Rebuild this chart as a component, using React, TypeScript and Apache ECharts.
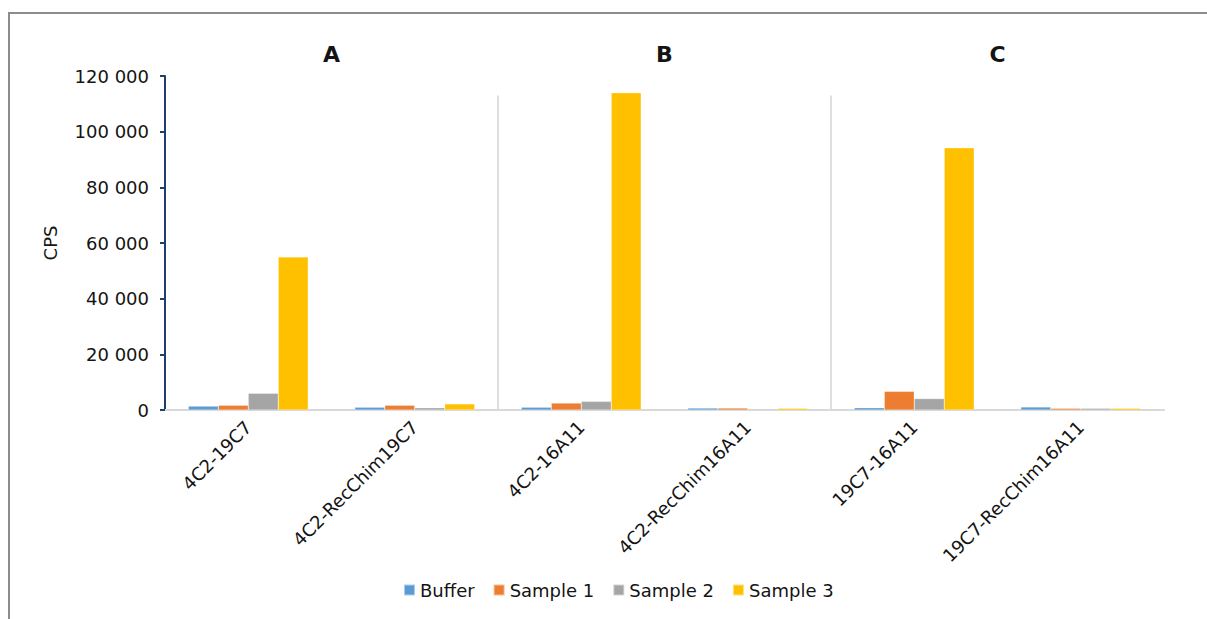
import React, { useEffect, useRef } from "react";
import * as echarts from "echarts";

const categories = [
  "4C2-19C7",
  "4C2-RecChim19C7",
  "4C2-16A11",
  "4C2-RecChim16A11",
  "19C7-16A11",
  "19C7-RecChim16A11",
];
const seriesNames = ["Buffer", "Sample 1", "Sample 2", "Sample 3"];
const bufferValues = [1400, 1000, 1000, 700, 800, 1100];
const sample1Values = [1700, 1700, 2500, 700, 6700, 600];
const sample2Values = [6000, 800, 3100, 350, 4100, 600];
const sample3Values = [55000, 2200, 114000, 600, 94200, 600];
const seriesColors = ["#5B9BD5", "#ED7D31", "#A5A5A5", "#FFC000"];
const panelTitles = ["A", "B", "C"];
const yMax = 120000;
const yInterval = 20000;

const FONT = "DejaVu Sans";
const TEXT = "#141414";

function fmt(v: number): string {
  return String(Math.round(v)).replace(/\B(?=(\d{3})+(?!\d))/g, " ");
}

export default function App() {
  const ref = useRef<HTMLDivElement>(null);

  useEffect(() => {
    if (!ref.current) return;
    const chart = echarts.init(ref.current, null, { renderer: "svg" });
    const allValues = [bufferValues, sample1Values, sample2Values, sample3Values];

    chart.setOption({
      animation: false,
      backgroundColor: "#ffffff",
      grid: { left: 165, right: 43, top: 76, bottom: 209, containLabel: false },
      legend: {
        data: seriesNames,
        left: 398,
        top: 576,
        icon: "rect",
        itemWidth: 11,
        itemHeight: 11,
        itemGap: 18,
        textStyle: { fontFamily: FONT, fontSize: 18, color: TEXT },
      },
      xAxis: {
        type: "category",
        data: categories,
        axisLine: { show: true, lineStyle: { color: "#D9D9D9", width: 2 } },
        axisTick: { show: false },
        axisLabel: {
          rotate: 45,
          margin: 14,
          interval: 0,
          fontFamily: FONT,
          fontSize: 18,
          color: TEXT,
        },
        splitLine: { show: false },
      },
      yAxis: {
        type: "value",
        min: 0,
        max: yMax,
        interval: yInterval,
        name: "CPS",
        nameLocation: "middle",
        nameGap: 106,
        nameRotate: 90,
        nameTextStyle: { fontFamily: FONT, fontSize: 18, color: TEXT },
        axisLine: { show: true, lineStyle: { color: "#1F3F6E", width: 2 } },
        axisTick: { show: true, inside: false, length: 5, lineStyle: { color: "#1F3F6E", width: 2 } },
        axisLabel: {
          margin: 16,
          fontFamily: FONT,
          fontSize: 18,
          color: TEXT,
          formatter: (v: number) => fmt(v),
        },
        splitLine: { show: false },
      },
      series: seriesNames.map((name, i) => ({
        name,
        type: "bar",
        data: allValues[i],
        barGap: "0%",
        barCategoryGap: "28%",
        itemStyle: { color: seriesColors[i], borderColor: "rgba(255,255,255,0.5)", borderWidth: 0.5 },
      })),
    });

    const xPix = (i: number) => chart.convertToPixel({ xAxisIndex: 0 }, categories[i]) as number;
    const yPix = (v: number) => chart.convertToPixel({ yAxisIndex: 0 }, v) as number;
    const y0 = yPix(0);
    const yTop = yPix(113000);

    const graphics: any[] = [
      {
        type: "rect",
        shape: { x: 9, y: 13, width: 1300, height: 700 },
        style: { fill: "none", stroke: "#8C8C8C", lineWidth: 2 },
        silent: true,
      },
    ];
    [2, 4].forEach((k) => {
      const xb = (xPix(k - 1) + xPix(k)) / 2;
      graphics.push({
        type: "line",
        shape: { x1: xb, y1: yTop, x2: xb, y2: y0 },
        style: { stroke: "#C8C8C8", lineWidth: 1.2 },
        silent: true,
      });
    });
    panelTitles.forEach((t, k) => {
      const xc = (xPix(2 * k) + xPix(2 * k + 1)) / 2;
      graphics.push({
        type: "text",
        x: xc,
        y: 54,
        style: {
          text: t,
          fontFamily: FONT,
          fontSize: 22,
          fontWeight: "bold",
          fill: TEXT,
          textAlign: "center",
          textVerticalAlign: "middle",
        },
        silent: true,
      });
    });
    chart.setOption({ graphic: graphics });

    return () => chart.dispose();
  }, []);

  return (
    <div
      ref={ref}
      style={{ position: "absolute", left: 0, top: 0, width: 1207, height: 619 }}
    />
  );
}
